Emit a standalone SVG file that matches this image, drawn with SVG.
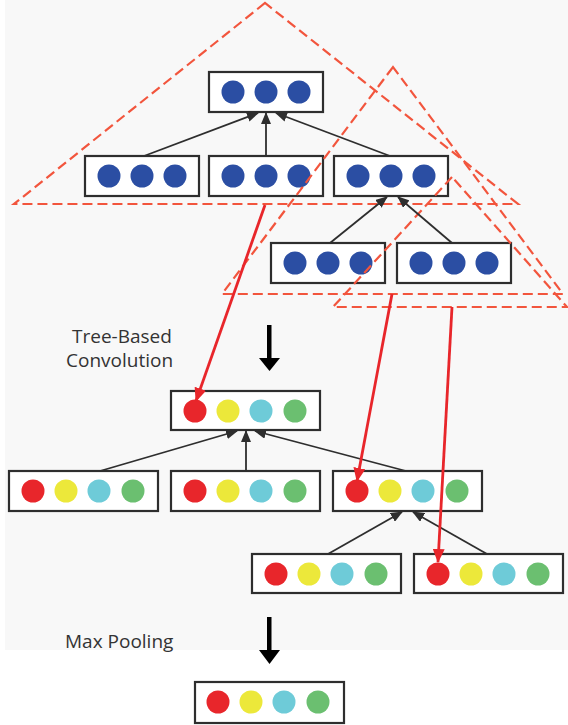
<svg xmlns="http://www.w3.org/2000/svg" width="568" height="725" viewBox="0 0 568 725">
<style>
.box{fill:#ffffff;stroke:#2e2e2e;stroke-width:2.2}
.b{fill:#2b4ea3}
.r{fill:#e8262b}
.y{fill:#ece83a}
.c{fill:#6ecbd8}
.g{fill:#6bbf70}
.tri{fill:none;stroke:#f2553d;stroke-width:2.2;stroke-dasharray:10 5}
.con{stroke:#2e2e2e;stroke-width:1.8;fill:none}
.red{stroke:#e8262b;stroke-width:2.8;fill:none}
.lbl{font-family:"Open Sans","Noto Sans",sans-serif;font-size:19px;fill:#333}
</style>
<defs>
<marker id="ah" markerUnits="userSpaceOnUse" markerWidth="12" markerHeight="10" refX="11" refY="5" orient="auto">
<path d="M0,0 L12,5 L0,10 z" fill="#2e2e2e"/>
</marker>
<marker id="rh" markerUnits="userSpaceOnUse" markerWidth="14" markerHeight="12" refX="13" refY="6" orient="auto">
<path d="M0,0 L14,6 L0,12 z" fill="#e8262b"/>
</marker>
</defs>
<rect width="568" height="725" fill="#ffffff"/>
<rect x="5" y="0" width="563" height="650" fill="#f8f8f8"/>

<g id="tree-top">
<rect class="box" x="209" y="72" width="114" height="40"/>
<circle class="b" cx="233" cy="92" r="11.5"/><circle class="b" cx="266" cy="92" r="11.5"/><circle class="b" cx="299" cy="92" r="11.5"/>
</g>
<g id="tree-a">
<rect class="box" x="85" y="156" width="114" height="40"/>
<circle class="b" cx="109" cy="176" r="11.5"/><circle class="b" cx="142" cy="176" r="11.5"/><circle class="b" cx="175" cy="176" r="11.5"/>
</g>
<g id="tree-b">
<rect class="box" x="209" y="156" width="114" height="40"/>
<circle class="b" cx="233" cy="176" r="11.5"/><circle class="b" cx="266" cy="176" r="11.5"/><circle class="b" cx="299" cy="176" r="11.5"/>
</g>
<g id="tree-c">
<rect class="box" x="334" y="156" width="114" height="40"/>
<circle class="b" cx="358" cy="176" r="11.5"/><circle class="b" cx="391" cy="176" r="11.5"/><circle class="b" cx="424" cy="176" r="11.5"/>
</g>
<g id="tree-d">
<rect class="box" x="271" y="243" width="114" height="40"/>
<circle class="b" cx="295" cy="263" r="11.5"/><circle class="b" cx="328" cy="263" r="11.5"/><circle class="b" cx="361" cy="263" r="11.5"/>
</g>
<g id="tree-e">
<rect class="box" x="397" y="243" width="114" height="40"/>
<circle class="b" cx="421" cy="263" r="11.5"/><circle class="b" cx="454" cy="263" r="11.5"/><circle class="b" cx="487" cy="263" r="11.5"/>
</g>

<g id="conv-top">
<rect class="box" x="171" y="391" width="149" height="39"/>
<circle class="r" cx="195" cy="411" r="11.5"/><circle class="y" cx="228" cy="411" r="11.5"/><circle class="c" cx="261" cy="411" r="11.5"/><circle class="g" cx="295" cy="411" r="11.5"/>
</g>
<g id="conv-a">
<rect class="box" x="9" y="471" width="149" height="40"/>
<circle class="r" cx="33" cy="491" r="11.5"/><circle class="y" cx="66" cy="491" r="11.5"/><circle class="c" cx="99" cy="491" r="11.5"/><circle class="g" cx="133" cy="491" r="11.5"/>
</g>
<g id="conv-b">
<rect class="box" x="171" y="471" width="149" height="40"/>
<circle class="r" cx="195" cy="491" r="11.5"/><circle class="y" cx="228" cy="491" r="11.5"/><circle class="c" cx="261" cy="491" r="11.5"/><circle class="g" cx="295" cy="491" r="11.5"/>
</g>
<g id="conv-c">
<rect class="box" x="333" y="471" width="149" height="40"/>
<circle class="r" cx="357" cy="491" r="11.5"/><circle class="y" cx="390" cy="491" r="11.5"/><circle class="c" cx="423" cy="491" r="11.5"/><circle class="g" cx="457" cy="491" r="11.5"/>
</g>
<g id="conv-d">
<rect class="box" x="252" y="554" width="149" height="39"/>
<circle class="r" cx="276" cy="574" r="11.5"/><circle class="y" cx="309" cy="574" r="11.5"/><circle class="c" cx="342" cy="574" r="11.5"/><circle class="g" cx="376" cy="574" r="11.5"/>
</g>
<g id="conv-e">
<rect class="box" x="414" y="554" width="149" height="39"/>
<circle class="r" cx="438" cy="574" r="11.5"/><circle class="y" cx="471" cy="574" r="11.5"/><circle class="c" cx="504" cy="574" r="11.5"/><circle class="g" cx="538" cy="574" r="11.5"/>
</g>
<g id="pooled">
<rect class="box" x="195" y="682" width="149" height="41"/>
<circle class="r" cx="218" cy="702" r="11.5"/><circle class="y" cx="251" cy="702" r="11.5"/><circle class="c" cx="284" cy="702" r="11.5"/><circle class="g" cx="318" cy="702" r="11.5"/>
</g>

<g id="windows">
<polygon class="tri" points="265,3 14,204 518,204"/>
<polygon class="tri" points="393,67 222,294 563,294"/>
<polygon class="tri" points="452,177 333,307 567,307"/>
</g>

<g id="connectors">
<line class="con" x1="144" y1="156" x2="258" y2="113" marker-end="url(#ah)"/>
<line class="con" x1="266" y1="156" x2="266" y2="113" marker-end="url(#ah)"/>
<line class="con" x1="390" y1="156" x2="276" y2="113" marker-end="url(#ah)"/>
<line class="con" x1="330" y1="243" x2="387" y2="197" marker-end="url(#ah)"/>
<line class="con" x1="452" y1="243" x2="398" y2="197" marker-end="url(#ah)"/>
<line class="con" x1="100" y1="471" x2="237" y2="431" marker-end="url(#ah)"/>
<line class="con" x1="246" y1="471" x2="246" y2="431" marker-end="url(#ah)"/>
<line class="con" x1="406" y1="471" x2="255" y2="431" marker-end="url(#ah)"/>
<line class="con" x1="328" y1="554" x2="402" y2="512" marker-end="url(#ah)"/>
<line class="con" x1="487" y1="554" x2="413" y2="512" marker-end="url(#ah)"/>
<line class="red" x1="265" y1="205" x2="196" y2="401" marker-end="url(#rh)"/>
<line class="red" x1="392" y1="294" x2="357" y2="481" marker-end="url(#rh)"/>
<line class="red" x1="452" y1="307" x2="438" y2="562" marker-end="url(#rh)"/>
<rect x="267" y="325" width="4.5" height="36" fill="#000"/>
<polygon points="259,358 280,358 269.5,371" fill="#000"/>
<rect x="267" y="617" width="4.5" height="36" fill="#000"/>
<polygon points="259,650 280,650 269.5,664" fill="#000"/>
</g>

<text class="lbl" x="72" y="343">Tree-Based</text>
<text class="lbl" x="66" y="367">Convolution</text>
<text class="lbl" x="65" y="648">Max Pooling</text>
</svg>
